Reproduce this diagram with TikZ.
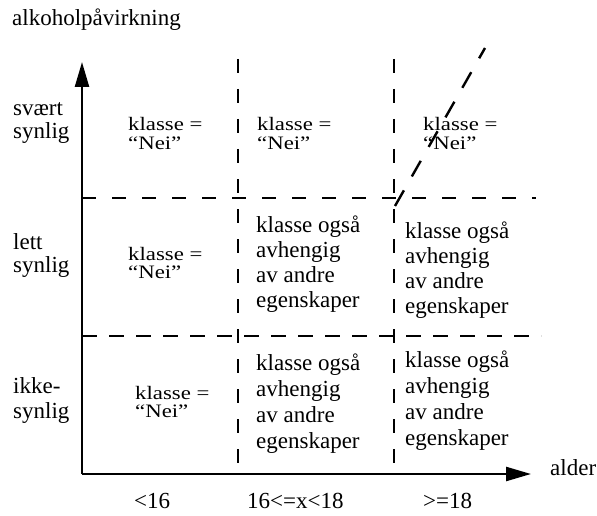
\documentclass[tikz,border=0pt]{standalone}
\usepackage{fontspec}
\setmainfont{Liberation Serif}
\newfontfamily\widefont[FakeStretch=1.2]{Liberation Serif}
\usetikzlibrary{arrows.meta}
% left-aligned block of lines whose baseline is the first line's
\newcommand\stackl[1]{\begin{tabular}[t]{@{}l@{}}#1\end{tabular}}

\begin{document}
\begin{tikzpicture}[x=1pt,y=-1pt,
  axis/.style={line width=2.4pt,-{Triangle[length=25pt,width=14pt]}},
  gridline/.style={line width=2.4pt,dash pattern=on 14pt off 16pt},
  thingrid/.style={line width=1.4pt,dash pattern=on 15pt off 12pt},
  diagline/.style={line width=2.4pt,dash pattern=on 18pt off 16pt},
  lbl/.style={inner sep=0pt,anchor=base west,font=\fontsize{23}{25}\selectfont},
  lowlbl/.style={inner sep=0pt,anchor=base west,font=\fontsize{23}{26}\selectfont},
  rowlbl/.style={inner sep=0pt,anchor=base west,font=\fontsize{23}{23}\selectfont},
  small/.style={inner sep=0pt,anchor=base west,font=\widefont\fontsize{19}{18}\selectfont},
]
\useasboundingbox (0,0) rectangle (597,516);

% axes
\coordinate (origin) at (82,474);
\coordinate (ytip) at (82,62);
\coordinate (xtip) at (531,474);
\draw[axis] (origin) -- (ytip);
\draw[axis] (origin) -- (xtip);

% grid lines
\coordinate (v1top) at (238,59);
\coordinate (v1bot) at (238,474);
\coordinate (v2top) at (394,59);
\coordinate (v2bot) at (394,474);
\coordinate (h1l) at (82,198);
\coordinate (h1r) at (536,198);
\coordinate (h2l) at (82,336);
\coordinate (h2r) at (541,336);
\coordinate (dlow) at (395,206);
\coordinate (dhigh) at (485,48);
\draw[gridline] (v1top) -- (v1bot);
\draw[gridline] (v2top) -- (v2bot);
\draw[gridline] (h1l) -- (h1r);
\draw[thingrid] (h2l) -- (h2r);
\draw[diagline] (dlow) -- (dhigh);

% axis titles
\node[lbl] (ytitle) at (12,26) {alkoholpåvirkning};
\node[lbl] (xtitle) at (550,475) {alder};

% row labels
\node[rowlbl] (r1) at (13,116) {\stackl{svært\\synlig}};
\node[rowlbl] (r2) at (13,249) {\stackl{lett\\synlig}};
\node[lbl] (r3) at (13,393) {\stackl{ikke-\\synlig}};

% column labels
\node[lbl] (c1) at (134,508) {<16};
\node[lbl] (c2) at (247,508) {16<=x<18};
\node[lbl] (c3) at (423,508) {>=18};

% cells
\node[small] (a11) at (128,131) {\stackl{klasse =\\“Nei”}};
\node[small] (a12) at (257,131) {\stackl{klasse =\\“Nei”}};
\node[small] (a13) at (423,131) {\stackl{klasse =\\“Nei”}};
\node[small] (a21) at (128,260) {\stackl{klasse =\\“Nei”}};
\node[small] (a31) at (135,399) {\stackl{klasse =\\“Nei”}};
\node[lbl] (a22) at (256,232) {\stackl{klasse også\\avhengig\\av andre\\egenskaper}};
\node[lbl] (a23) at (405,238) {\stackl{klasse også\\avhengig\\av andre\\egenskaper}};
\node[lowlbl] (a32) at (256,370) {\stackl{klasse også\\avhengig\\av andre\\egenskaper}};
\node[lowlbl] (a33) at (405,367) {\stackl{klasse også\\avhengig\\av andre\\egenskaper}};
\end{tikzpicture}
\end{document}
